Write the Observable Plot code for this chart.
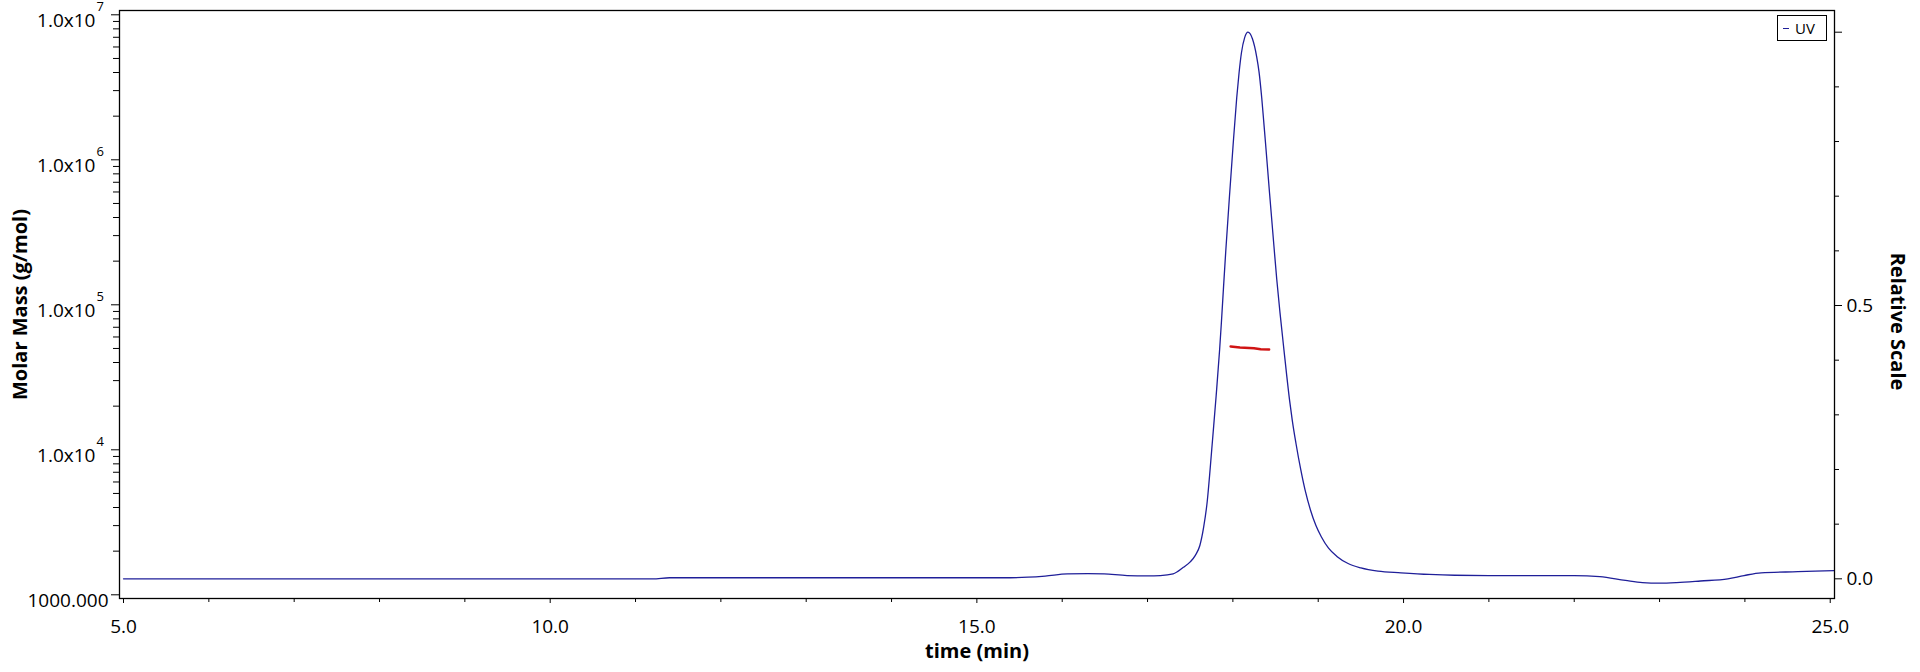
<!DOCTYPE html>
<html><head><meta charset="utf-8">
<script src="https://cdn.jsdelivr.net/npm/d3@7"></script>
<script src="https://cdn.jsdelivr.net/npm/@observablehq/plot@0.6"></script>
<style>
body{margin:0;background:#fff;}
#wrap{position:relative;width:1920px;height:672px;font-family:"Open Sans",sans-serif;}
#legend{position:absolute;left:1777px;top:15px;width:50px;height:26px;border:1px solid #000;box-sizing:border-box;background:#fff;font-size:15px;line-height:24px;color:#000;}
#legend .dash{position:absolute;left:5px;top:12px;width:6px;height:1.4px;background:#1f1f99;}
#legend .lab{position:absolute;left:17px;top:0px;}
</style>
</head><body><div id="wrap"><div id="legend"><span class="dash"></span><span class="lab">UV</span></div></div>
<script>
// UV trace (relative scale, right axis)
const uvTime = [5.0,6.0,7.0,8.0,9.0,10.0,11.0,11.2,11.4,12.0,13.0,14.0,15.0,15.3,15.6,15.8,16.06,16.3,16.49,16.76,17.0,17.15,17.3,17.42,17.5,17.56,17.613,17.657,17.699,17.733,17.762,17.804,17.845,17.865,17.889,17.916,17.96,18.001,18.045,18.072,18.1,18.138,18.177,18.229,18.279,18.306,18.338,18.365,18.381,18.43,18.482,18.514,18.552,18.599,18.665,18.696,18.739,18.795,18.845,18.909,18.972,19.036,19.121,19.219,19.35,19.5,19.7,19.97,20.3,20.6,21.0,21.5,22.0,22.3,22.6,22.8,23.0,23.2,23.48,23.8,23.99,24.19,24.62,25.05];
const uvSignal = [0.000,0.000,0.000,0.000,0.000,0.000,0.000,0.000,0.002,0.002,0.002,0.002,0.002,0.002,0.003,0.005,0.009,0.0095,0.009,0.006,0.0055,0.006,0.009,0.021,0.031,0.043,0.061,0.094,0.141,0.200,0.255,0.335,0.420,0.468,0.530,0.598,0.700,0.790,0.880,0.925,0.962,0.990,1.000,0.988,0.955,0.928,0.880,0.830,0.800,0.705,0.607,0.548,0.487,0.418,0.326,0.290,0.248,0.200,0.163,0.126,0.098,0.077,0.056,0.041,0.028,0.020,0.014,0.011,0.008,0.0065,0.006,0.006,0.006,0.004,-0.003,-0.007,-0.008,-0.007,-0.004,0.000,0.006,0.011,0.013,0.015];
// Molar mass (left axis)
const mwTime = [17.974,18.083,18.248,18.326,18.424];
const mwMass = [51580,50770,50210,49420,49180];
// ticks
const xMajor = [5,10,15,20,25];
const xMinor = [6,7,8,9,11,12,13,14,16,17,18,19,21,22,23,24];
const massMajor = [1e4,1e5,1e6,1e7];
const massExp = ["4","5","6","7"];
const massBase = [1000];
const massMinor = [2e3,3e3,4e3,5e3,6e3,7e3,8e3,9e3,2e4,3e4,4e4,5e4,6e4,7e4,8e4,9e4,2e5,3e5,4e5,5e5,6e5,7e5,8e5,9e5,2e6,3e6,4e6,5e6,6e6,7e6,8e6,9e6];
const relMajor = [0,0.5,1];
const relMinor = [0.1,0.2,0.3,0.4,0.6,0.7,0.8,0.9];

// axis domains
const L0 = 2.9745, L1 = 7.0297;   // log10 molar mass range
const R0 = -0.036, R1 = 1.0397;   // relative scale range
const relToMass = r => Math.pow(10, L0 + (r - R0) / (R1 - R0) * (L1 - L0));
const massToRel = m => (Math.log10(m) - L0) / (L1 - L0) * (R1 - R0) + R0;

const uv = uvTime.map((t, i) => ({t, v: relToMass(uvSignal[i])}));
const mw = mwTime.map((t, i) => ({t, m: mwMass[i]}));
const blank = () => "";
const font = '"Open Sans", sans-serif';

const chart = Plot.plot({
  width: 1920, height: 672,
  marginLeft: 119, marginRight: 86, marginTop: 10, marginBottom: 74,
  style: {fontFamily: font, fontSize: "19px", color: "#000", background: "#fff", overflow: "visible"},
  x: {domain: [4.953, 25.05]},
  y: {type: "log", domain: [Math.pow(10, L0), Math.pow(10, L1)]},
  marks: [
    Plot.line(uv, {x: "t", y: "v", stroke: "#1f1f99", strokeWidth: 1.3, curve: "monotone-x", clip: true}),
    Plot.line(mw, {x: "t", y: "m", stroke: "#d01414", strokeWidth: 2.6}),
    Plot.axisX({ticks: xMajor, tickSize: 5, tickPadding: 16, tickFormat: d3.format(".1f"), fontSize: 19, label: null}),
    Plot.axisX({ticks: xMinor, tickSize: 4, tickFormat: blank, label: null}),
    Plot.axisY({anchor: "left", ticks: massMajor.concat(massBase), tickSize: 8, tickFormat: blank, label: null}),
    Plot.axisY({anchor: "left", ticks: massMinor, tickSize: 6, tickFormat: blank, label: null}),
    Plot.text(massMajor, {y: d => d, text: () => "1.0x10", frameAnchor: "left", textAnchor: "end", dx: -24, dy: 6, fontSize: 19}),
    Plot.text(massMajor, {y: d => d, text: (d, i) => massExp[i], frameAnchor: "left", textAnchor: "start", dx: -23, dy: -8, fontSize: 13}),
    Plot.text(massBase, {y: d => d, text: () => "1000.000", frameAnchor: "left", textAnchor: "end", dx: -11, dy: 6, fontSize: 19}),
    Plot.axisY({anchor: "right", ticks: relMajor.map(relToMass), tickSize: 7, tickPadding: 5, tickFormat: d => massToRel(d).toFixed(1), fontSize: 19, label: null}),
    Plot.axisY({anchor: "right", ticks: relMinor.map(relToMass), tickSize: 4, tickFormat: blank, label: null}),
    Plot.frame({stroke: "#000", strokeWidth: 1.3}),
    Plot.text(["time (min)"], {frameAnchor: "bottom", dy: 53, fontWeight: "bold", fontSize: 20, textAnchor: "middle", lineAnchor: "middle"}),
    Plot.text(["Molar Mass (g/mol)"], {frameAnchor: "left", dx: -99, rotate: -90, fontWeight: "bold", fontSize: 20, textAnchor: "middle", lineAnchor: "middle"}),
    Plot.text(["Relative Scale"], {frameAnchor: "right", dx: 63, dy: 17, rotate: 90, fontWeight: "bold", fontSize: 20, textAnchor: "middle", lineAnchor: "middle"})
  ]
});
document.getElementById("wrap").prepend(chart);
</script>
</body></html>
